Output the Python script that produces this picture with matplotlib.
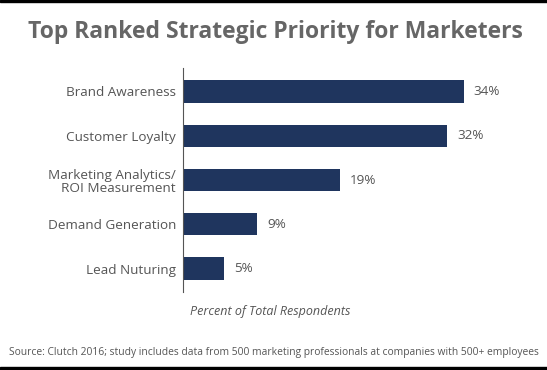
import matplotlib
matplotlib.use('Agg')
import matplotlib.pyplot as plt
from matplotlib.patches import Rectangle

categories = ['Brand Awareness', 'Customer Loyalty', 'Marketing Analytics/\nROI Measurement',
              'Demand Generation', 'Lead Nuturing']
values = [34, 32, 19, 9, 5]

plt.rcParams['font.family'] = ['Open Sans', 'DejaVu Sans']

W, H = 547, 370
fig = plt.figure(figsize=(W / 100, H / 100), dpi=100)
fig.patch.set_facecolor('white')

# axes placed in pixel terms
ax = fig.add_axes([183 / W, (H - 292) / H, 330 / W, 224 / H])
y = list(range(len(categories)))
ax.barh(y, values, height=0.5, color='#1f355e')
ax.set_ylim(len(categories) - 0.47, -0.53)
ax.set_xlim(0, 40)
ax.set_yticks(y)
ax.set_yticklabels(categories, fontsize=9.7, color='#555555', linespacing=1.0)
ax.tick_params(axis='y', length=0, pad=5)
ax.set_xticks([])
for s in ['top', 'right', 'bottom']:
    ax.spines[s].set_visible(False)
ax.spines['left'].set_color('#555555')
ax.spines['left'].set_linewidth(0.8)

for yi, v in zip(y, values):
    ax.text(v + 1.2, yi, f'{v}%', va='center', ha='left', fontsize=9.7, color='#555555')

fig.text(275 / W, 1 - 32 / H, 'Top Ranked Strategic Priority for Marketers',
         ha='center', va='center', fontsize=16.5, fontweight='bold', color='#666666')
fig.text(270 / W, 1 - 312 / H, 'Percent of Total Respondents',
         ha='center', va='center', fontsize=9, style='italic', color='#555555')
fig.text(274 / W, 1 - 352 / H,
         'Source: Clutch 2016; study includes data from 500 marketing professionals at companies with 500+ employees',
         ha='center', va='center', fontsize=7.4, color='#555555')

# black border lines at top and bottom
fig.add_artist(Rectangle((0, 1 - 2 / H), 1, 2 / H, transform=fig.transFigure, color='black'))
fig.add_artist(Rectangle((0, 0), 1, 3 / H, transform=fig.transFigure, color='black'))

fig.savefig('out.png', dpi=100)
